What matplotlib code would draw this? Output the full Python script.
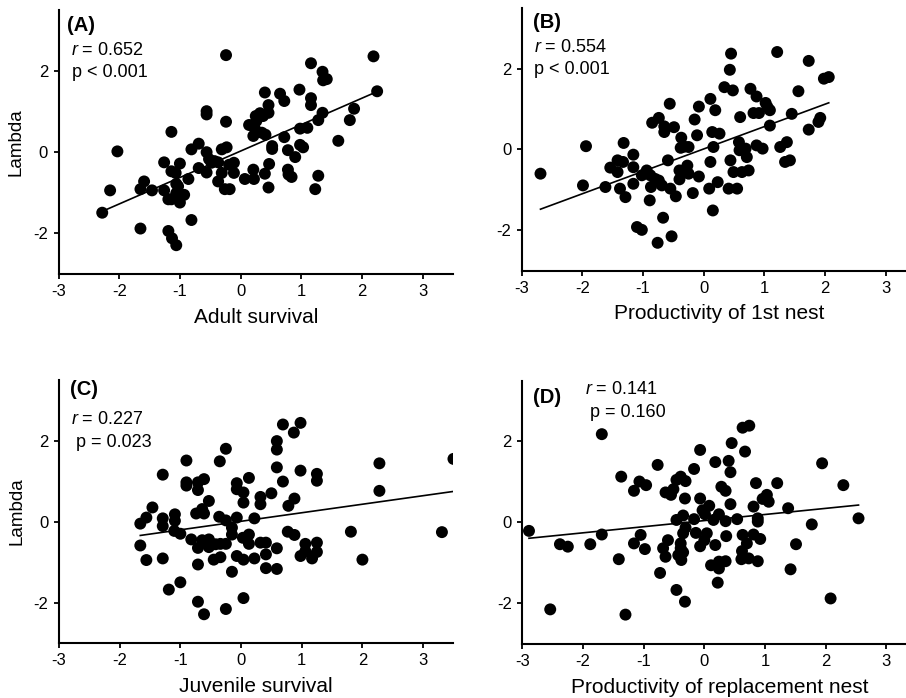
import numpy as np
import matplotlib
matplotlib.use('agg')
import matplotlib.pyplot as plt

plt.rcParams['font.family'] = ['Liberation Sans', 'DejaVu Sans']
plt.rcParams['axes.unicode_minus'] = False
plt.rcParams['mathtext.fontset'] = 'custom'
plt.rcParams['mathtext.rm'] = 'Liberation Sans'
plt.rcParams['mathtext.it'] = 'Liberation Sans:italic'

# (A) adult survival vs lambda
adult_x = [-0.24, 2.19, 1.16, 1.35, 1.36, 1.42, 2.25, 0.40, 0.65, 0.72, 0.97, 1.16, 1.16,
           1.87, 0.46, 0.46, -0.56, -0.56, -0.24, 0.25, 0.32, 0.37, 0.26, 0.14, 0.23,
           1.35, 1.28, 1.80, 0.98, 1.10, -1.14, 0.21, 0.35, 0.41, 0.72, 1.61, -0.69,
           -0.81, -0.31, -0.23, 0.52, 0.52, 0.98, 1.03, 0.78, 0.90, -2.03, -0.56, -0.52,
           -0.43, -0.37, -0.48, -1.26, -1.00, -0.69, -0.56, -0.19, -0.11, -0.31, -0.11,
           -1.14, -1.07, -0.37, 0.47, 0.21, 0.40, 0.07, 0.22, 0.78, 0.84, 0.79, 1.28,
           -0.86, -1.06, -1.03, -1.06, -1.59, -1.65, -1.46, -1.26, -0.26, -0.18, 0.46,
           1.23, -2.15, -0.93, -1.19, -1.14, -1.00, -2.28, -0.81, -1.65, -1.19, -1.13, -1.06]
adult_y = [2.39, 2.36, 2.19, 1.98, 1.77, 1.80, 1.50, 1.47, 1.44, 1.26, 1.54, 1.33, 1.16,
           1.07, 1.16, 0.97, 1.01, 0.93, 0.75, 0.89, 0.96, 0.89, 0.77, 0.67, 0.60,
           0.97, 0.79, 0.79, 0.58, 0.60, 0.50, 0.40, 0.48, 0.43, 0.37, 0.28, 0.21,
           0.07, 0.07, 0.12, 0.15, 0.08, 0.18, 0.12, 0.05, -0.12, 0.02, 0.00, -0.17,
           -0.22, -0.25, -0.26, -0.25, -0.28, -0.39, -0.50, -0.31, -0.26, -0.51, -0.51,
           -0.47, -0.51, -0.72, -0.29, -0.43, -0.53, -0.66, -0.66, -0.43, -0.61, -0.55, -0.58,
           -0.66, -0.78, -0.84, -1.01, -0.72, -0.91, -0.94, -0.94, -0.91, -0.91, -0.87,
           -0.91, -0.94, -1.05, -1.16, -1.16, -1.24, -1.49, -1.67, -1.88, -1.94, -2.12, -2.29]

# (B) productivity of 1st nest vs lambda
first_x = [-2.69, -1.99, -1.94, -1.62, -1.54, -1.42, -1.33, -1.42, -1.38, -1.29, -1.32,
           -1.16, -1.16, -1.16, -1.02, -0.94, -0.88, -0.80, -0.87, -0.69, -0.74, -0.55,
           -0.46, -0.89, -0.85, -0.74, -0.65, -0.65, -0.49, -0.56, -0.59, -0.37, -0.32,
           -0.25, -0.38, -0.40, -0.33, -0.27, -0.25, -0.40, -0.08, -0.18, -0.15, -0.08,
           -0.11, -1.10, -1.02, -0.67, -0.76, -0.53, 0.11, 0.19, 0.14, 0.26, 0.16, 0.11,
           0.09, 0.23, 0.15, 0.34, 0.48, 0.43, 0.45, 0.60, 0.44, 0.41, 0.55, 0.58, 0.59,
           0.69, 0.71, 0.49, 0.63, 0.74, 0.77, 0.87, 0.82, 0.91, 0.87, 0.97, 1.02, 1.05,
           1.09, 1.09, 1.21, 1.26, 1.37, 1.34, 1.42, 1.45, 1.56, 1.73, 1.73, 1.89, 1.92,
           1.98, 2.06]
first_y = [-0.60, -0.89, 0.08, -0.93, -0.45, -0.27, -0.31, -0.56, -0.97, -1.18, 0.16,
           -0.13, -0.44, -0.85, -0.64, -0.52, -0.64, -0.73, -0.93, -0.89, -0.77, -0.97,
           -1.16, -1.26, 0.66, 0.78, 0.57, 0.43, 0.55, 1.13, -0.27, 0.29, 0.07,
           0.06, 0.04, -0.74, -0.56, -0.40, -0.60, -0.52, -0.67, -1.08, 0.74, 1.06,
           0.35, -1.92, -1.99, -1.69, -2.31, -2.15, 1.25, 0.97, 0.43, 0.39, 0.06, -0.31,
           -0.97, -0.81, -1.51, 1.54, 1.46, 1.97, 2.37, 0.80, -0.27, -0.97, -0.97, 0.18, -0.02,
           0.02, -0.19, -0.56, -0.56, -0.52, 1.50, 1.31, 0.90, 0.90, 0.10, 0.02, 1.15, 1.05,
           0.97, 0.59, 2.41, 0.06, 0.18, -0.31, -0.27, 0.88, 1.44, 2.19, 0.49, 0.68, 0.78,
           1.75, 1.79]

# (C) juvenile survival vs lambda
juv_x = [0.69, 0.98, 0.87, 0.59, 0.59, -0.25, -0.90, -0.35, -1.29, 0.59, 0.98, 2.28, 3.50,
         0.13, -0.90, -0.90, -0.71, -0.71, -0.61, -0.07, -0.07, 0.04, 0.04, 0.69, 1.25,
         1.25, 0.50, 0.32, 0.32, 0.88, 0.78, 2.28, -0.53, -1.46, -0.74, -0.61, -0.64,
         -1.66, -1.56, -1.29, -1.29, -1.09, -1.09, -1.10, -1.00, -0.36, -0.25, -0.07, 0.22,
         -0.15, -0.15, 0.13, 0.03, -0.82, -0.64, -0.53, -0.71, -0.53, -0.42, -0.34, -0.25,
         0.13, 0.32, 0.41, 0.59, 0.41, 0.77, 0.88, 1.81, 3.31, 1.06, 1.06, 0.98, 1.17,
         1.25, 1.25, 2.00, -1.66, -1.56, -1.29, -0.45, -0.34, -0.07, 0.04, 0.22, -0.71,
         -0.15, 0.41, 0.59, -1.00, -1.19, -0.71, -0.61, -0.25, 0.04]
juv_y = [2.40, 2.44, 2.20, 1.99, 1.78, 1.80, 1.51, 1.49, 1.16, 1.34, 1.26, 1.44, 1.55,
         1.08, 0.97, 0.89, 0.97, 0.78, 1.05, 0.95, 0.80, 0.72, 0.47, 0.99, 1.18,
         1.01, 0.70, 0.61, 0.43, 0.57, 0.39, 0.76, 0.51, 0.35, 0.20, 0.20, 0.31,
         -0.05, 0.10, 0.08, -0.11, 0.18, 0.02, -0.23, -0.30, 0.12, 0.03, 0.10, 0.08,
         -0.15, -0.32, -0.32, -0.40, -0.44, -0.46, -0.44, -0.65, -0.63, -0.56, -0.55, -0.55,
         -0.55, -0.52, -0.52, -0.66, -0.81, -0.25, -0.33, -0.25, -0.26, -0.55, -0.73, -0.85, -0.91,
         -0.52, -0.75, -0.94, -0.59, -0.95, -0.91, -0.94, -0.88, -0.85, -0.94, -0.91, -1.06,
         -1.24, -1.15, -1.17, -1.50, -1.68, -1.98, -2.29, -2.16, -1.89]

# (D) productivity of replacement nest vs lambda
repl_x = [-2.89, -2.54, -2.38, -2.25, -1.88, -1.69, -1.69, -1.41, -1.30, -1.37, -1.16,
          -1.07, -0.96, -1.05, -1.16, -0.98, -0.77, -0.64, -0.55, -0.51, -0.46, -0.39,
          -0.31, -0.32, -0.73, -0.60, -0.68, -0.64, -0.46, -0.32, -0.46, -0.35, -0.31,
          -0.35, -0.39, -0.39, -0.35, -0.43, -0.38, -0.17, -0.14, -0.17, -0.07, -0.07,
          -0.03, 0.01, 0.08, 0.00, 0.04, -0.07, 0.15, 0.24, 0.35, 0.36, 0.18, 0.11, 0.24,
          0.24, 0.35, 0.22, 0.18, 0.40, 0.28, 0.35, 0.43, 0.43, 0.45, 0.63, 0.74, 0.67,
          0.54, 0.63, 0.70, 0.62, 0.61, 0.73, 0.88, 0.81, 0.92, 0.88, 0.88, 0.81, 0.85,
          0.96, 1.03, 1.06, 1.20, 1.38, 1.51, 1.42, 1.77, 1.94, 2.08, 2.29, 2.54]
repl_y = [-0.21, -2.15, -0.54, -0.60, -0.54, 2.18, -0.30, -0.91, -2.28, 1.13, 0.78,
          1.01, 0.92, -0.31, -0.52, -0.66, 1.42, 0.74, 0.68, 0.82, 1.05, 1.13,
          1.02, 0.59, -1.25, -0.44, -0.64, -0.85, -1.67, -1.96, 0.06, 0.17, -0.13,
          -0.27, -0.52, -0.64, -0.74, -0.81, -0.93, 0.08, -0.26, 1.32, 1.79, 0.59,
          0.30, 0.20, 0.41, -0.44, -0.27, -0.59, 0.06, 0.20, 0.03, -0.34, -0.56, -1.06, -0.97,
          -1.14, -0.96, -1.49, 1.49, 1.52, 0.88, 0.78, 1.24, 0.45, 1.96, 2.34, 2.39, 1.75,
          0.08, -0.31, -0.52, -0.71, -0.91, -0.89, -0.96, -0.30, -0.41, 0.10, 0.02, 0.39, 0.97,
          0.58, 0.68, 0.51, 0.97, 0.35, -0.54, -1.16, -0.05, 1.46, -1.88, 0.92, 0.10]

panels = [
    ('(A)', adult_x, adult_y, 'Adult survival', '0.652', 'p < 0.001'),
    ('(B)', first_x, first_y, 'Productivity of 1st nest', '0.554', 'p < 0.001'),
    ('(C)', juv_x, juv_y, 'Juvenile survival', '0.227', ' p = 0.023'),
    ('(D)', repl_x, repl_y, 'Productivity of replacement nest', '0.141', ' p = 0.160'),
]

# axes rectangles in figure fraction
rects = [
    [0.0646, 0.6074, 0.4354, 0.3782],
    [0.5758, 0.6122, 0.4354, 0.3764],
    [0.0651, 0.0788, 0.4354, 0.3768],
    [0.5765, 0.0777, 0.4354, 0.3768],
]
# text anchor positions (axes fraction): panel label, r line, p line
label_pos = [(0.021, 0.943), (0.028, 0.943), (0.028, 0.962), (0.026, 0.935)]
r_pos = [(0.032, 0.848), (0.030, 0.848), (0.030, 0.848), (0.159, 0.966)]
p_pos = [(0.034, 0.765), (0.032, 0.764), (0.030, 0.762), (0.159, 0.880)]

fig = plt.figure(figsize=(9.06, 6.98), dpi=100)

for i, (lab, xs, ys, xlab, rv, ptxt) in enumerate(panels):
    ax = fig.add_axes(rects[i])
    xs = np.array(xs)
    ys = np.array(ys)
    ax.scatter(xs, ys, s=74, color='black', edgecolors='none', zorder=3)
    k, b = np.polyfit(xs, ys, 1)
    xl = np.array([xs.min(), xs.max()])
    ax.plot(xl, k * xl + b, color='black', lw=1.2, zorder=2)

    ax.set_xlim(-3, 3.5)
    ax.set_ylim(-3, 3.5)
    ax.set_xticks([-3, -2, -1, 0, 1, 2, 3])
    ax.set_yticks([-2, 0, 2])
    ax.spines['top'].set_visible(False)
    ax.spines['right'].set_visible(False)
    ax.spines['left'].set_linewidth(1.5)
    ax.spines['bottom'].set_linewidth(1.5)
    ax.tick_params(direction='out', length=3.5, width=1.3, labelsize=12, pad=4)
    ax.set_xlabel(xlab, fontsize=15, labelpad=6)
    if i % 2 == 0:
        ax.set_ylabel('Lambda', fontsize=13.5, labelpad=6)

    ax.text(label_pos[i][0], label_pos[i][1], lab, transform=ax.transAxes,
            fontsize=14.5, fontweight='bold', va='center', ha='left')
    ax.text(r_pos[i][0], r_pos[i][1], '$\\mathit{r}$ = ' + rv, transform=ax.transAxes,
            fontsize=13, va='center', ha='left')
    ax.text(p_pos[i][0], p_pos[i][1], ptxt, transform=ax.transAxes,
            fontsize=13, va='center', ha='left')

fig.savefig('out.png', dpi=100, facecolor='white')
